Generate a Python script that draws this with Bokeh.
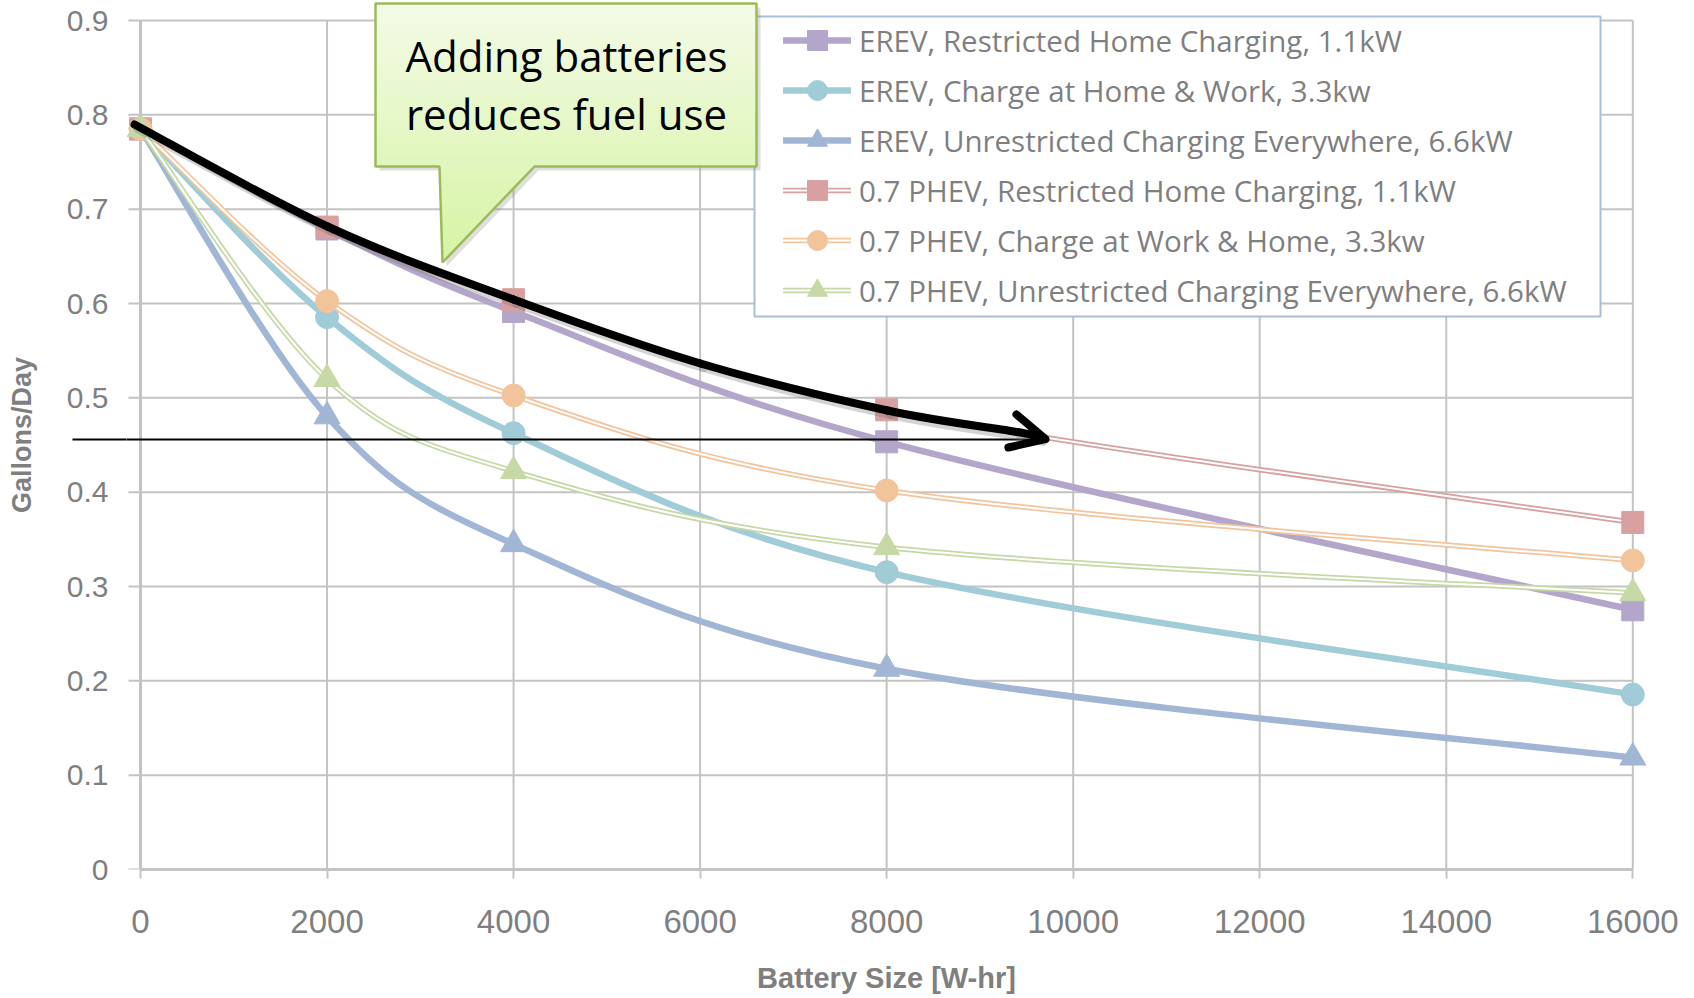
from bokeh.plotting import figure
from bokeh.models import (Range1d, FixedTicker, Legend, LegendItem, Arrow, OpenHead,
                          ColumnDataSource)
from bokeh.core.properties import value
from bokeh.embed import file_html
from bokeh.resources import INLINE

# ---------------- data ----------------
battery_wh = [0, 2000, 4000, 8000, 16000]
erev_restricted_1_1kw = [0.785, 0.679, 0.5915, 0.4534, 0.2753]
erev_home_work_3_3kw = [0.785, 0.5855, 0.4625, 0.3152, 0.1855]
erev_unrestricted_6_6kw = [0.785, 0.4804, 0.3449, 0.2128, 0.1187]
phev_restricted_1_1kw = [0.785, 0.681, 0.604, 0.4873, 0.3679]
phev_work_home_3_3kw = [0.785, 0.6025, 0.5025, 0.4018, 0.3276]
phev_unrestricted_6_6kw = [0.785, 0.520, 0.4223, 0.3417, 0.2929]

series_labels = [
    "EREV, Restricted Home Charging, 1.1kW",
    "EREV, Charge at Home & Work, 3.3kw",
    "EREV, Unrestricted Charging Everywhere, 6.6kW",
    "0.7 PHEV, Restricted Home Charging, 1.1kW",
    "0.7 PHEV, Charge at Work & Home, 3.3kw",
    "0.7 PHEV, Unrestricted Charging Everywhere, 6.6kW",
]

x_ticks = [0, 2000, 4000, 6000, 8000, 10000, 12000, 14000, 16000]
x_tick_labels = ["0", "2000", "4000", "6000", "8000", "10000", "12000", "14000", "16000"]
y_ticks = [0, 0.1, 0.2, 0.3, 0.4, 0.5, 0.6, 0.7, 0.8, 0.9]
y_tick_labels = ["0", "0.1", "0.2", "0.3", "0.4", "0.5", "0.6", "0.7", "0.8", "0.9"]

reference_level = 0.4558   # thin horizontal reference line (Gallons/Day)
callout_lines = ["Adding batteries", "reduces fuel use"]
x_title = "Battery Size [W-hr]"
y_title = "Gallons/Day"

# ---------------- styles ----------------
colors = ["#B4A6CA", "#A0CCD8", "#A0B6D4", "#D8A0A0", "#F2C49C", "#C6D8A6"]
markers = ["square", "circle", "triangle", "square", "circle", "triangle"]
marker_sizes = [22, 23, 26, 22, 23, 26]
double_line = [False, False, False, True, True, True]
GRID = "#C3C3C3"
TXT = "#7F7F7F"

# ---------------- geometry (screen pixels) ----------------
PX_X0 = 140.0
PX_PER_X = (1632.3 - 140.0) / 16000.0
PY_Y0 = 869.0
PX_PER_Y = (869.0 - 20.0) / 0.9
W, H = 1694, 998
FRAME_L, FRAME_R, FRAME_T, FRAME_B = 126.0, 1646.0, 0.0, 869.0
REF_LINE_X0, REF_LINE_X1 = 72.0, 1030.0


def px_to_x(px):
    return (px - PX_X0) / PX_PER_X


def py_to_y(py):
    return (PY_Y0 - py) / PX_PER_Y


x_start, x_end = px_to_x(FRAME_L), px_to_x(FRAME_R)
y_start, y_end = 0.0, py_to_y(FRAME_T)

p = figure(width=W, height=H, output_backend="svg", toolbar_location=None,
           x_range=Range1d(x_start, x_end), y_range=Range1d(y_start, y_end),
           min_border_left=int(FRAME_L), min_border_right=int(W - FRAME_R),
           min_border_top=int(FRAME_T), min_border_bottom=int(H - FRAME_B))
p.outline_line_color = None
p.background_fill_color = "white"
p.border_fill_color = "white"
p.xgrid.grid_line_color = None
p.ygrid.grid_line_color = None

# x axis
xa = p.xaxis[0]
xa.ticker = FixedTicker(ticks=x_ticks)
xa.major_label_overrides = {t: s for t, s in zip(x_ticks, x_tick_labels)}
xa.bounds = (x_ticks[0], x_ticks[-1])
xa.axis_line_color = GRID
xa.axis_line_width = 3
xa.major_tick_line_color = GRID
xa.major_tick_line_width = 2
xa.major_tick_out = 9
xa.major_tick_in = 0
xa.minor_tick_line_color = None
xa.major_label_standoff = 31
xa.major_label_text_font = "Liberation Sans"
xa.major_label_text_font_size = "33px"
xa.major_label_text_color = TXT
xa.axis_label = x_title
xa.axis_label_text_font = "Liberation Sans"
xa.axis_label_text_font_style = "bold"
xa.axis_label_text_font_size = "29px"
xa.axis_label_text_color = TXT
xa.axis_label_standoff = 26

# y axis: labels + title; its single minor tick carries the reference line
# across the label area (the gray tick marks are drawn with the grid)
ya = p.yaxis[0]
ya.ticker = FixedTicker(ticks=y_ticks, minor_ticks=[reference_level])
ya.major_label_overrides = {t: s for t, s in zip(y_ticks, y_tick_labels)}
ya.axis_line_color = None
ya.major_tick_line_color = None
ya.major_tick_out = 0
ya.major_tick_in = 0
ya.minor_tick_line_color = "black"
ya.minor_tick_line_width = 2
ya.minor_tick_out = int(FRAME_L - REF_LINE_X0)
ya.minor_tick_in = 0
ya.major_label_standoff = int(FRAME_L - 108) - int(FRAME_L - REF_LINE_X0)
ya.major_label_text_font = "Liberation Sans"
ya.major_label_text_font_size = "30px"
ya.major_label_text_color = TXT
ya.axis_label = y_title
ya.axis_label_text_font = "Liberation Sans"
ya.axis_label_text_font_style = "bold"
ya.axis_label_text_font_size = "27px"
ya.axis_label_text_color = TXT
ya.axis_label_standoff = 27

# grid lines, y axis line and y ticks
tick_len = 12 / PX_PER_X
p.segment(x0=x_ticks[1:], y0=[y_ticks[0]] * (len(x_ticks) - 1), x1=x_ticks[1:],
          y1=[y_ticks[-1]] * (len(x_ticks) - 1), line_color=GRID, line_width=2)
p.segment(x0=[-tick_len] * len(y_ticks), y0=y_ticks, x1=[x_ticks[-1]] * len(y_ticks),
          y1=y_ticks, line_color=GRID, line_width=2)
p.segment(x0=[x_ticks[0]], y0=[y_ticks[0]], x1=[x_ticks[0]], y1=[y_ticks[-1]],
          line_color=GRID, line_width=3)

# legend box
p.quad(left=[px_to_x(754)], right=[px_to_x(1600)], top=[py_to_y(16)], bottom=[py_to_y(316)],
       fill_color="white", line_color="#A9BEDB", line_width=2)


def smooth_segments(xs, ys):
    n = len(xs)
    out = dict(x0=[], y0=[], x1=[], y1=[], cx0=[], cy0=[], cx1=[], cy1=[])
    for i in range(n - 1):
        a = max(i - 1, 0)
        d = min(i + 2, n - 1)
        out["x0"].append(xs[i]); out["y0"].append(ys[i])
        out["x1"].append(xs[i + 1]); out["y1"].append(ys[i + 1])
        out["cx0"].append(xs[i] + (xs[i + 1] - xs[a]) / 6.0)
        out["cy0"].append(ys[i] + (ys[i + 1] - ys[a]) / 6.0)
        out["cx1"].append(xs[i + 1] - (xs[d] - xs[i]) / 6.0)
        out["cy1"].append(ys[i + 1] - (ys[d] - ys[i]) / 6.0)
    return out


all_series = [erev_restricted_1_1kw, erev_home_work_3_3kw, erev_unrestricted_6_6kw,
              phev_restricted_1_1kw, phev_work_home_3_3kw, phev_unrestricted_6_6kw]

bz = dict(x0="x0", y0="y0", x1="x1", y1="y1", cx0="cx0", cy0="cy0", cx1="cx1", cy1="cy1")
items = []
for vals, lab, col, mk, ms, dbl in zip(all_series, series_labels, colors, markers,
                                        marker_sizes, double_line):
    src = ColumnDataSource(smooth_segments(battery_wh, vals))
    rs = []
    if dbl:
        rs.append(p.bezier(source=src, line_color=col, line_width=5.5, line_cap="round", **bz))
        rs.append(p.bezier(source=src, line_color="white", line_width=2, line_cap="round", **bz))
    else:
        rs.append(p.bezier(source=src, line_color=col, line_width=6.5, line_cap="round", **bz))
    rs.append(p.scatter(battery_wh, vals, marker=mk, size=ms, fill_color=col, line_color=col))
    items.append(LegendItem(label=lab, renderers=rs))

ROW = 50
legend = Legend(items=items, location=(int(783 - FRAME_L), int(FRAME_B - (40 - ROW / 2 + 6 * ROW))),
                glyph_width=68, glyph_height=ROW, label_height=ROW, spacing=0,
                padding=0, margin=0, label_standoff=8,
                border_line_color=None, background_fill_alpha=0,
                label_text_font="Open Sans", label_text_font_size="29.5px",
                label_text_color=TXT)
p.add_layout(legend)

# ---------------- annotations ----------------
# thin horizontal reference line (inside the plot area)
p.segment(x0=[px_to_x(FRAME_L)], y0=[reference_level], x1=[px_to_x(REF_LINE_X1)],
          y1=[reference_level], line_color="black", line_width=2)

# curved black arrow
arrow_px = [(134, 124), (327, 226), (513, 299), (700, 363), (887, 410), (1017, 431.5), (1040, 437)]
ax = [px_to_x(a) for a, b in arrow_px]
ay = [py_to_y(b) for a, b in arrow_px]
shadow = smooth_segments([x + 3 / PX_PER_X for x in ax], [y - 4 / PX_PER_Y for y in ay])
p.bezier(source=ColumnDataSource(shadow), line_color="#707070", line_alpha=0.3,
         line_width=9, line_cap="round", **bz)
p.bezier(source=ColumnDataSource(smooth_segments(ax, ay)), line_color="black",
         line_width=8, line_cap="round", **bz)
p.add_layout(Arrow(end=OpenHead(size=34, line_width=8, line_color="black", line_cap="round",
                                line_join="round"),
                   x_start=px_to_x(1010), y_start=py_to_y(430), x_end=px_to_x(1045), y_end=py_to_y(438.5),
                   line_alpha=0, line_width=1))

# callout (vertical gradient fill built from thin strips, then the outline)
BOX_L, BOX_R, BOX_T, BOX_B = 375.0, 756.0, 3.0, 166.0
PTR_L0, PTR_R0, PTR_TIP = (439.0, 166.0), (534.0, 166.0), (442.0, 262.0)
call_px = [(BOX_L, BOX_T), (BOX_R, BOX_T), (BOX_R, BOX_B), PTR_R0, PTR_TIP, PTR_L0, (BOX_L, BOX_B)]
p.patch([px_to_x(a + 4) for a, b in call_px], [py_to_y(b + 4) for a, b in call_px],
        fill_color="#808080", fill_alpha=0.25, line_color=None)


def grad(t):
    c0, c1 = (0xF3, 0xFB, 0xE6), (0xD6, 0xF3, 0xA4)
    return "#%02X%02X%02X" % tuple(int(round(a + (b - a) * t)) for a, b in zip(c0, c1))


N_BOX = 16
strip_l, strip_r, strip_t, strip_b, strip_c = [], [], [], [], []
for i in range(N_BOX):
    t0 = BOX_T + (BOX_B - BOX_T) * i / N_BOX
    t1 = BOX_T + (BOX_B - BOX_T) * (i + 1) / N_BOX
    strip_l.append(px_to_x(BOX_L)); strip_r.append(px_to_x(BOX_R))
    strip_t.append(py_to_y(t0)); strip_b.append(py_to_y(t1 + 0.5))
    strip_c.append(grad((0.5 * (t0 + t1) - BOX_T) / (PTR_TIP[1] - BOX_T)))
p.quad(left=strip_l, right=strip_r, top=strip_t, bottom=strip_b, fill_color=strip_c, line_color=None)

N_PTR = 8
pxs, pys, pcs = [], [], []
for i in range(N_PTR):
    f0, f1 = i / N_PTR, min((i + 1) / N_PTR + 0.02, 1.0)
    l0 = PTR_L0[0] + (PTR_TIP[0] - PTR_L0[0]) * f0
    r0 = PTR_R0[0] + (PTR_TIP[0] - PTR_R0[0]) * f0
    l1 = PTR_L0[0] + (PTR_TIP[0] - PTR_L0[0]) * f1
    r1 = PTR_R0[0] + (PTR_TIP[0] - PTR_R0[0]) * f1
    y0 = PTR_L0[1] + (PTR_TIP[1] - PTR_L0[1]) * f0
    y1 = PTR_L0[1] + (PTR_TIP[1] - PTR_L0[1]) * f1
    pxs.append([px_to_x(v) for v in (l0, r0, r1, l1)])
    pys.append([py_to_y(v) for v in (y0 - 0.5, y0 - 0.5, y1, y1)])
    pcs.append(grad((0.5 * (y0 + y1) - BOX_T) / (PTR_TIP[1] - BOX_T)))
p.patches(pxs, pys, fill_color=pcs, line_color=None)

p.patch([px_to_x(a) for a, b in call_px], [py_to_y(b) for a, b in call_px],
        fill_color=None, line_color="#9BBB59", line_width=2.5)
p.text(x=[px_to_x(566), px_to_x(566)], y=[py_to_y(55), py_to_y(112.5)], text=callout_lines,
       text_font=value("Open Sans"), text_font_size="42px", text_color="black",
       text_align="center", text_baseline="middle")

open("out.html", "w").write(file_html(p, INLINE))
